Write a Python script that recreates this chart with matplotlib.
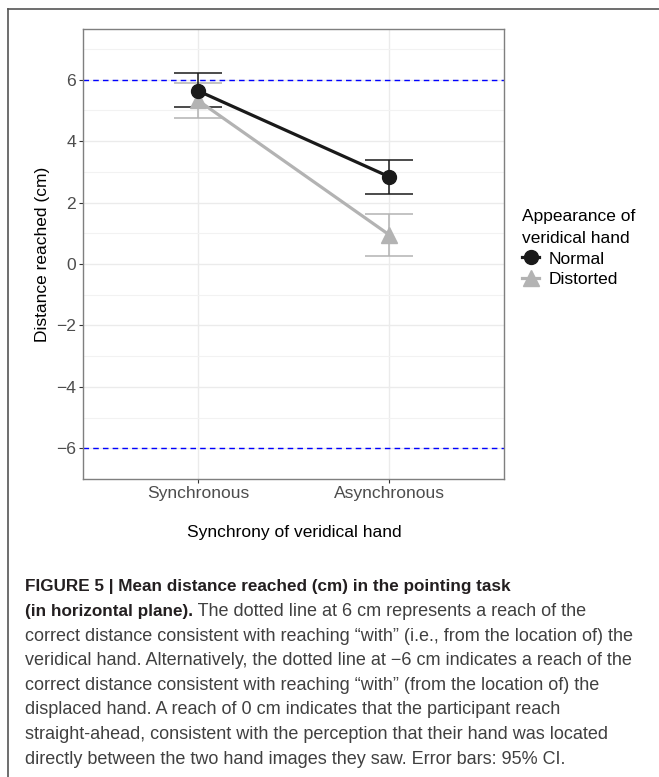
import numpy as np
import matplotlib
matplotlib.use("Agg")
import matplotlib.pyplot as plt
from matplotlib.lines import Line2D

plt.rcParams['font.family'] = ['Liberation Sans', 'DejaVu Sans']

conditions = ['Synchronous', 'Asynchronous']
groups = ['Normal', 'Distorted']
means = {'Normal': [5.64, 2.84], 'Distorted': [5.33, 0.95]}
ci_low = {'Normal': [5.11, 2.28], 'Distorted': [4.76, 0.26]}
ci_high = {'Normal': [6.21, 3.39], 'Distorted': [5.90, 1.63]}
colors = {'Normal': '#1a1a1a', 'Distorted': '#b3b3b3'}
markers = {'Normal': 'o', 'Distorted': '^'}
ref_lines = [6, -6]

caption_bold1 = "FIGURE 5 | Mean distance reached (cm) in the pointing task"
caption_bold2 = "(in horizontal plane)."
caption_rest2 = " The dotted line at 6 cm represents a reach of the"
caption_lines = [
    "correct distance consistent with reaching \u201cwith\u201d (i.e., from the location of) the",
    "veridical hand. Alternatively, the dotted line at \u22126 cm indicates a reach of the",
    "correct distance consistent with reaching \u201cwith\u201d (from the location of) the",
    "displaced hand. A reach of 0 cm indicates that the participant reach",
    "straight-ahead, consistent with the perception that their hand was located",
    "directly between the two hand images they saw. Error bars: 95% CI.",
]

W, H = 659, 777
fig = plt.figure(figsize=(W / 100, H / 100), dpi=100)
ax = fig.add_axes([83 / W, 1 - 479 / H, (504 - 83) / W, (479 - 29) / H])

x = np.arange(1, len(conditions) + 1)
for g in ['Distorted', 'Normal']:
    c = colors[g]
    lo = np.array(means[g]) - np.array(ci_low[g])
    hi = np.array(ci_high[g]) - np.array(means[g])
    ax.errorbar(x, means[g], yerr=[lo, hi], fmt='none', ecolor=c,
                elinewidth=1.1, capsize=17, capthick=1.1, zorder=3)
    ax.plot(x, means[g], color=c, lw=2.3, zorder=4)
    ax.plot(x, means[g], linestyle='none', marker=markers[g], color=c,
            markersize=10 if g == 'Normal' else 12, zorder=5)

for yv in ref_lines:
    ax.axhline(yv, color='#0000ff', lw=1.0, dashes=(4, 3), zorder=2)

ax.set_xlim(0.4, 2.6)
ax.set_ylim(-6.65, 7.65)
ax.set_xticks(x)
ax.set_xticklabels(conditions)
ax.set_yticks(np.arange(-6, 7, 2))
ax.set_yticks(np.arange(-7, 8, 1), minor=True)
ax.grid(True, which='major', color='#ebebeb', lw=1.0)
ax.grid(True, which='minor', axis='y', color='#f2f2f2', lw=0.8)
ax.set_axisbelow(True)
ax.tick_params(axis='both', which='major', length=3, width=0.8, color='#333333',
               labelsize=12.6, labelcolor='#4d4d4d', pad=2)
ax.tick_params(axis='y', which='minor', length=0)
for s in ax.spines.values():
    s.set_color('#7f7f7f')
    s.set_linewidth(1.0)

fig.text(43 / W, 1 - 254 / H, 'Distance reached (cm)', rotation=90,
         ha='center', va='center', fontsize=12.5, color='black')
fig.text(294 / W, 1 - 532 / H, 'Synchrony of veridical hand',
         ha='center', va='center', fontsize=12.5, color='black')

handles = [Line2D([], [], color=colors[g], marker=markers[g], lw=2.3,
                  markersize=10 if g == 'Normal' else 11) for g in groups]
leg = fig.legend(handles, groups, title='Appearance of\nveridical hand',
                 loc='upper left', bbox_to_anchor=(522 / W, 1 - 209 / H),
                 frameon=False, fontsize=12.5, title_fontsize=12.5,
                 handlelength=1.0, handletextpad=0.55, labelspacing=0.3,
                 borderpad=0, borderaxespad=0)
leg._legend_box.align = 'left'
leg.get_title().set_linespacing(1.6)

# outer frame around figure panel
fig.add_artist(Line2D([8 / W, 1.0], [1 - 9 / H, 1 - 9 / H], color='#555555', lw=1.2,
                      transform=fig.transFigure))
fig.add_artist(Line2D([8 / W, 8 / W], [1 - 9 / H, 0.0], color='#555555', lw=1.2,
                      transform=fig.transFigure))

# caption
cap_x = 25 / W
bold_size = 12.3
reg_size = 13.0
y0 = 587
step = 24.6
fig.text(cap_x, 1 - y0 / H, caption_bold1, fontsize=bold_size, fontweight='bold',
         color='#231f20', ha='left', va='center')
tb = fig.text(cap_x, 1 - (y0 + step) / H, caption_bold2, fontsize=bold_size,
              fontweight='bold', color='#231f20', ha='left', va='center')
fig.canvas.draw()
bb = tb.get_window_extent(renderer=fig.canvas.get_renderer())
fig.text(bb.x1 / W, 1 - (y0 + step) / H, caption_rest2, fontsize=reg_size,
         color='#404040', ha='left', va='center')
for i, line in enumerate(caption_lines):
    fig.text(cap_x, 1 - (y0 + step * (i + 2)) / H, line, fontsize=reg_size,
             color='#404040', ha='left', va='center')

fig.savefig('out.png', dpi=100)
